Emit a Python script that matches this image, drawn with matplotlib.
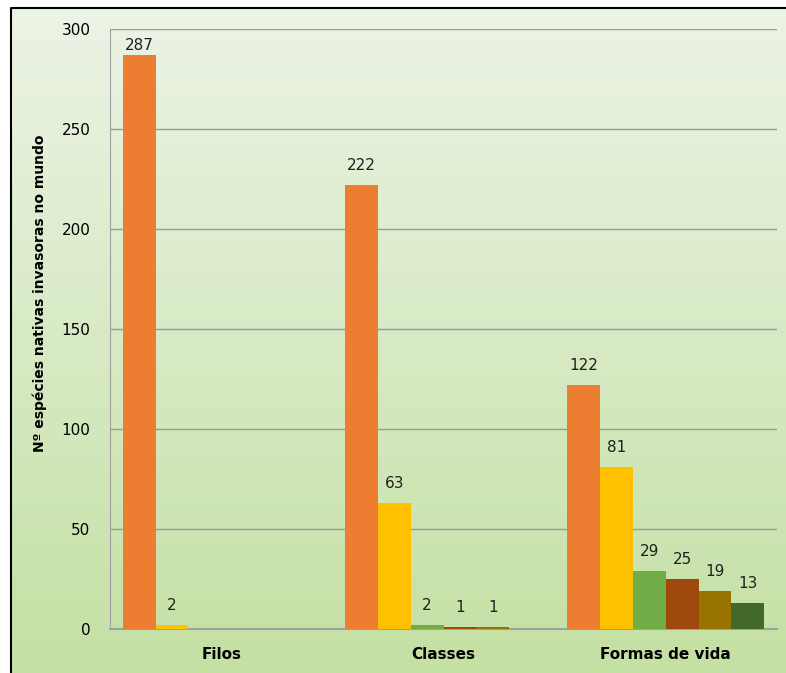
import matplotlib.pyplot as plt
import numpy as np
from matplotlib.colors import LinearSegmentedColormap

categories = ['Filos', 'Classes', 'Formas de vida']
# one list per series (6 series per category), nan = no bar
serie1 = [287, 222, 122]
serie2 = [2, 63, 81]
serie3 = [np.nan, 2, 29]
serie4 = [np.nan, 1, 25]
serie5 = [np.nan, 1, 19]
serie6 = [np.nan, np.nan, 13]
cores = ['#ED7D31', '#FFC000', '#70AD47', '#9E480E', '#997300', '#43682B']
ylabel = 'Nº espécies nativas invasoras no mundo'

series = [serie1, serie2, serie3, serie4, serie5, serie6]

fig = plt.figure(figsize=(7.86, 6.73), dpi=100)

# background gradient inside the frame
bg = fig.add_axes([0.014, 0, 0.986, 0.988], zorder=0)
grad = np.linspace(0, 1, 256).reshape(-1, 1)
cmap = LinearSegmentedColormap.from_list('g', ['#ecf4e6', '#c4e0a3'])
bg.imshow(grad, aspect='auto', cmap=cmap, extent=[0, 1, 0, 1], origin='upper')
bg.set_axis_off()
fig.add_artist(plt.Line2D([0.014, 0.014, 1.0], [0, 0.988, 0.988],
                          transform=fig.transFigure, color='black', lw=1.5))

ax = fig.add_axes([0.14, 0.0654, 0.8485, 0.8915], zorder=1)
ax.patch.set_alpha(0)

barWidth = 0.1475
x = np.arange(len(categories))
for i, (vals, c) in enumerate(zip(series, cores)):
    pos = x + (i - 2.5) * barWidth
    ax.bar(pos, vals, width=barWidth, color=c, zorder=3)
    for p, v in zip(pos, vals):
        if not np.isnan(v):
            # labels near the top get pushed down like excel does
            ax.text(p, min(v + 6, 288), str(int(v)), ha='center', va='bottom',
                    fontsize=11, color='#202020', zorder=4)

ax.set_xlim(-0.5, 2.5)
ax.set_ylim(0, 300)
ax.set_yticks(range(0, 301, 50))
ax.yaxis.grid(True, color='#9a9a9a', lw=1.0, zorder=1)
for s in ['top', 'right']:
    ax.spines[s].set_visible(False)
ax.spines['left'].set_color('#a0a0a0')
ax.spines['bottom'].set_color('#a0a0a0')
ax.spines['bottom'].set_linewidth(1.5)
ax.set_xticks(x)
ax.set_xticklabels(categories, fontweight='bold', fontsize=11)
ax.tick_params(axis='x', length=0, pad=13)
ax.tick_params(axis='y', length=0, pad=14, labelsize=11)
ax.set_ylabel(ylabel, fontweight='bold', fontsize=10)
ax.yaxis.set_label_coords(-0.095, 0.56)

plt.savefig('out.png', dpi=100)
